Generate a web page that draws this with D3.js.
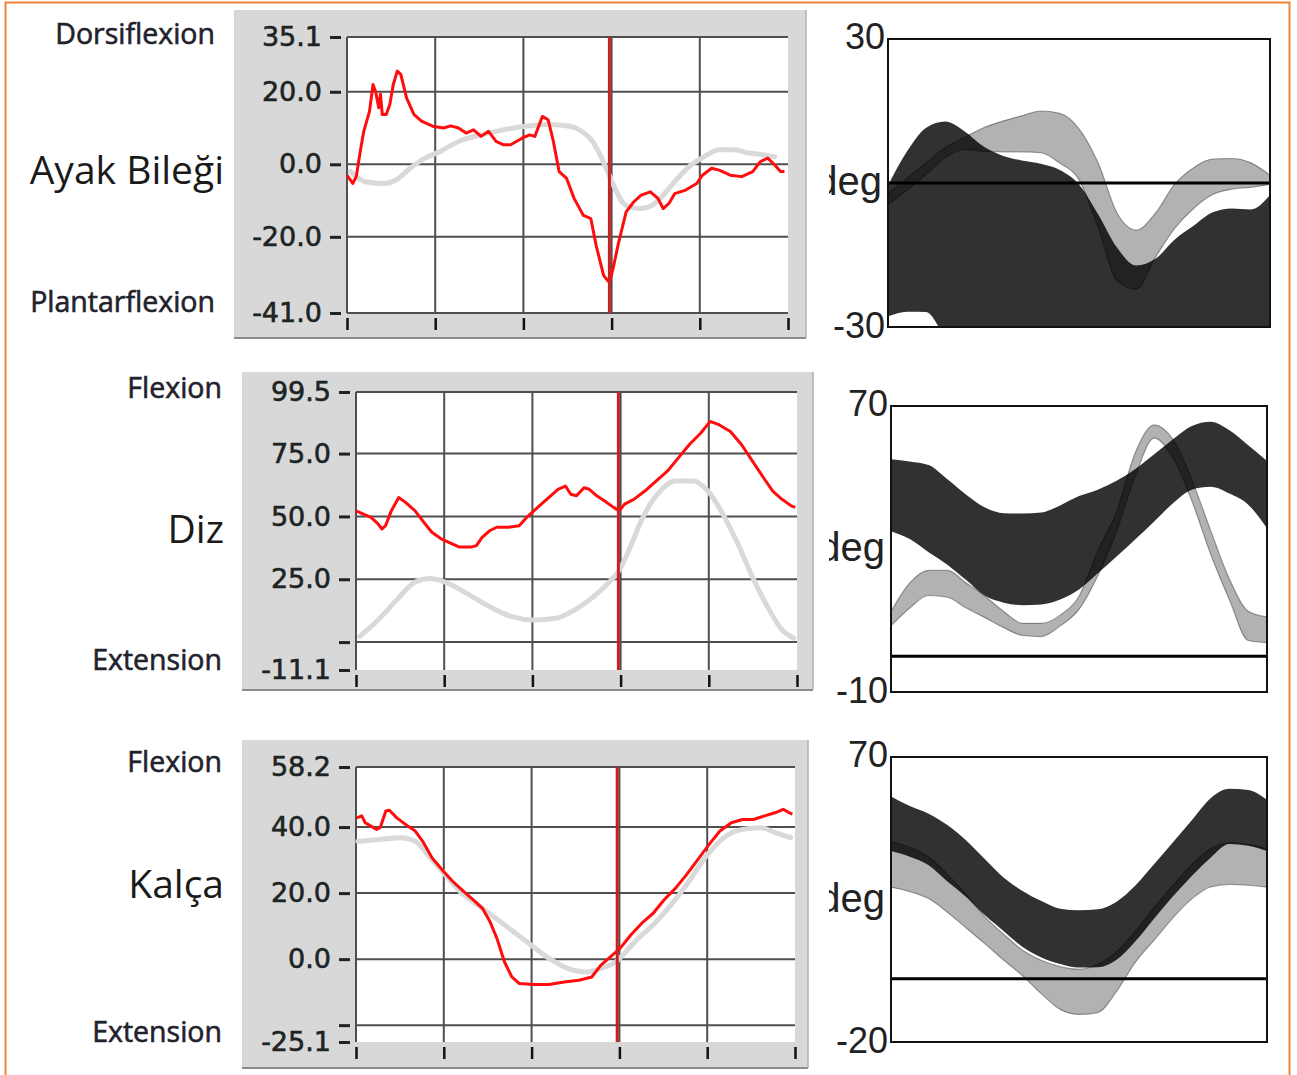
<!DOCTYPE html>
<html><head><meta charset="utf-8">
<script src="https://cdn.jsdelivr.net/npm/d3@7"></script>
<style>body{margin:0;background:#fff}svg{display:block}</style>
</head><body>
<svg id="c" width="1297" height="1075"></svg>
<script>
// ---------------- DATA ----------------
const xTicks = [0, 20, 40, 60, 80, 100];
const gridX = [0, 20, 40, 60, 80];
const toeOffPct = 59.5;

// Ankle (Ayak Bileği) - patient & normal
const ankleYDomain = [-41.0, 35.1];
const ankleTicks = [35.1, 20.0, 0.0, -20.0, -41.0];
const ankleTickLabels = ["35.1", "20.0", "0.0", "-20.0", "-41.0"];
const ankleGrid = [35.1, 20, 0, -20, -41.0];
const ankleActualPct = [0, 1.3, 2.1, 3, 3.8, 5.1, 5.9, 6.5, 7.2, 7.6, 8, 8.9, 9.7, 10.5, 11.4, 12.2, 13.5, 15.2, 16.9, 19.4, 21.9, 23.5, 25.3, 27, 28.7, 30.4, 32.1, 33.8, 35.4, 37.1, 39.7, 41.4, 42.6, 44.3, 45.6, 46.8, 48.1, 49.8, 51.5, 53.6, 55.3, 56.5, 58.2, 59.5, 60.3, 61.6, 63.3, 65, 66.7, 68.8, 70.5, 71.7, 73, 74.3, 76.8, 79.3, 80.6, 82.7, 84.4, 86.9, 89.5, 92, 93.7, 95.4, 97, 98.3, 99.2];
const ankleActual = [-3, -5.3, -3.4, 3.5, 9.1, 14.6, 22, 20, 15.6, 19.3, 13.7, 13.7, 16.5, 22, 25.7, 24.8, 18.3, 13.7, 11.9, 10.5, 10.0, 10.6, 10.0, 8.6, 9.5, 7.7, 9.1, 6.3, 5.4, 5.4, 7.2, 8.1, 7.7, 13.2, 12.3, 6.3, -2.0, -3.9, -9.4, -14.1, -15, -22.4, -30.7, -32.6, -28.9, -21.5, -13.1, -10.4, -8.5, -7.6, -9.4, -12.2, -10.8, -8.1, -7.1, -5.3, -3, -1.1, -1.6, -3, -3.4, -2, 0.7, 1.7, -0.2, -2, -2];
const ankleNormPct = [0.8, 4.2, 8.4, 11, 14.3, 17.7, 21.1, 25.3, 30.4, 35.4, 40.5, 45.6, 50.6, 53.2, 55.7, 57.4, 59.1, 60.8, 62.4, 64.1, 66.7, 69.2, 71.7, 74.3, 77.6, 81, 84.4, 87.8, 91.1, 94.5, 97];
const ankleNorm = [-2, -4.8, -5.3, -4.4, -1.1, 1.7, 3.5, 6.3, 8.1, 9.5, 10.5, 11, 10.5, 9.1, 6.3, 2.6, -2, -6.7, -10.4, -11.8, -12.2, -11.3, -8.5, -4.8, -0.6, 2.1, 4, 4, 3.1, 2.6, 2.1];

// Knee (Diz)
const kneeYDomain = [-11.1, 99.5];
const kneeTicks = [99.5, 75.0, 50.0, 25.0, 0.0, -11.1];
const kneeTickLabels = ["99.5", "75.0", "50.0", "25.0", "", "-11.1"];
const kneeGrid = [99.5, 75, 50, 25, 0];
const kneeActualPct = [0, 1.7, 3.4, 5, 5.9, 6.7, 8, 9.7, 11.3, 13.4, 15.1, 17.2, 19.3, 21.8, 23.5, 26.1, 27.3, 28.6, 30.3, 31.9, 34.5, 37, 38.7, 41.2, 43.7, 45.8, 47.5, 48.7, 50, 51.7, 52.9, 54.6, 56.3, 58.4, 59.7, 60.9, 63, 65.5, 68.1, 70.6, 73.1, 75.6, 78.2, 80.3, 82.4, 84.9, 87.4, 89.9, 92.4, 94.5, 96.6, 98.7, 99.6];
const kneeActual = [52.2, 50.9, 49.6, 47, 45, 46.3, 52.2, 57.5, 55.5, 52.2, 48.3, 43.7, 41.1, 39.1, 37.8, 37.8, 38.4, 41.7, 44.3, 45.7, 45.7, 46.3, 49.6, 53.6, 57.5, 60.8, 62.1, 58.8, 58.2, 61.4, 60.8, 58.2, 56.2, 53.6, 52.2, 54.9, 56.8, 60.1, 64.1, 68, 73.3, 78.6, 83.2, 87.8, 86.4, 83.8, 78.6, 72, 65.4, 60.1, 56.8, 54.2, 53.6];
const kneeNormPct = [0.8, 5, 9.2, 13.4, 16.8, 20.2, 25.2, 30.3, 35.3, 40.3, 45.4, 49.6, 53.8, 57.1, 59.7, 62.2, 64.7, 67.2, 69.7, 72.3, 76.5, 79.8, 83.2, 86.6, 89.9, 93.3, 96.6, 99.2];
const kneeNorm = [2.2, 8.8, 16.7, 23.9, 25.3, 23.9, 19.3, 14.1, 10.1, 8.8, 9.5, 12.8, 18, 23.3, 28.6, 37.8, 48.3, 56.2, 61.4, 64.1, 64.1, 60.1, 50.9, 39.1, 25.9, 14.1, 4.9, 1.6];

// Hip (Kalça)
const hipYDomain = [-25.1, 58.2];
const hipTicks = [58.2, 40.0, 20.0, 0.0, -20.0, -25.1];
const hipTickLabels = ["58.2", "40.0", "20.0", "0.0", "", "-25.1"];
const hipGrid = [58.2, 40, 20, 0, -20];
const hipActualPct = [0.2, 1.3, 2.1, 3.4, 4.7, 5.5, 6.8, 7.6, 9.3, 11.8, 13.5, 15.2, 17.3, 19.9, 22, 24.5, 27.1, 28.8, 30.5, 32.1, 33.8, 35.5, 37.2, 40.6, 44, 47.4, 50.8, 53.7, 55.8, 58.4, 60.1, 62.6, 65.1, 67.7, 70.2, 72.8, 75.3, 77.9, 80.4, 82.9, 85.5, 88, 90.5, 93.1, 95.6, 97.3, 98.6, 99.4];
const hipActual = [42.8, 43.4, 41.3, 40.3, 39.3, 39.8, 44.9, 45.1, 42.8, 40.3, 38.8, 35.7, 30.7, 26.6, 23.6, 20.5, 17.5, 15.4, 11.4, 6.3, -0.8, -5.4, -7.4, -7.7, -7.7, -6.9, -6.4, -5.4, -1.8, 1.2, 3.2, 7.3, 10.9, 13.9, 18, 21.5, 25.6, 30.2, 34.7, 38.8, 41.3, 42.3, 42.3, 43.4, 44.4, 45.4, 44.4, 43.9];
const hipNormPct = [0.4, 5.1, 10.2, 13.5, 16.9, 20.3, 23.7, 28.8, 33.8, 38.9, 44, 48.2, 52.5, 55.8, 59.2, 61.8, 64.3, 67.7, 71.1, 75.3, 79.5, 83.8, 88, 92.2, 95.6, 99];
const hipNorm = [35.7, 36.2, 36.8, 35.7, 30.7, 25.6, 20.5, 15.4, 10.4, 5.3, 0.2, -2.8, -3.9, -2.8, -0.8, 2.7, 6.3, 10.4, 15.4, 22.5, 30.7, 36.8, 39.3, 39.8, 38.3, 36.8];

// Right-hand band charts (deg vs % gait cycle)
const bandPct = [0, 5, 10, 15, 20, 25, 30, 35, 40, 45, 50, 55, 60, 65, 70, 75, 80, 85, 90, 95, 100];
const ankleBandDomain = [-30, 30];
const ankleDarkUpper = [-0.5, 6.6, 11.5, 12.8, 10.8, 7.6, 5.7, 4.7, 4.0, 2.7, -0.3, -6.5, -13.5, -17.2, -15.8, -11.8, -8.9, -6.1, -5.3, -5.5, -2.5];
const ankleDarkLower = [-27.8, -26.8, -26.9, -32, -35, -35, -35, -35, -35, -35, -35, -35, -35, -35, -35, -35, -35, -35, -35, -35, -35];
const ankleGreyUpper = [-2.2, 1.0, 4.2, 7.4, 9.5, 11.5, 12.9, 14.0, 15.0, 14.5, 11.3, 4.2, -6.3, -9.8, -6.3, -0.3, 3.2, 5.0, 5.1, 4.2, 1.6];
const ankleGreyLower = [-4.5, -1.5, 1.8, 5.3, 7.0, 6.6, 6.5, 6.5, 6.3, 4.1, 0.7, -9.3, -20.4, -22.1, -15.5, -9.5, -5.3, -2.4, -1.3, -0.9, -0.3];

const kneeBandDomain = [-10, 70];
const kneeDarkUpper = [55.1, 54.5, 53.5, 49.5, 45.2, 41.6, 40, 39.9, 40.2, 42.2, 44.8, 46.6, 49.1, 52.4, 56.5, 60.7, 64.4, 65.6, 63.2, 59, 54.6];
const kneeDarkLower = [35, 32.8, 29.1, 25.6, 21.3, 16.9, 15, 14.3, 14.5, 15.9, 18.7, 23.2, 27.9, 32.7, 37.7, 42.8, 46.6, 47.4, 45.5, 42.4, 35.8];
const kneeGreyUpper = [12.5, 20.5, 24, 24, 20.5, 16.8, 12.5, 9.2, 9.2, 11.5, 16.8, 29.5, 40.5, 57, 64.7, 60.6, 49.4, 35.2, 21.6, 12.6, 11];
const kneeGreyLower = [8.5, 13.5, 17, 16.5, 13.5, 10.8, 8, 5.8, 5.5, 8.5, 13.1, 22.5, 35, 50.5, 61, 55.5, 43.5, 28.6, 15.8, 4.4, 3.8];

const hipBandDomain = [-20, 70];
const hipDarkUpper = [57.5, 54.5, 52.1, 48.5, 43.6, 37.7, 31.9, 27.7, 24.5, 22.1, 21.6, 21.9, 24.3, 29.4, 36.2, 43.1, 50, 57, 60, 59.6, 56.5];
const hipDarkLower = [40.3, 38.5, 35.8, 30.7, 25.8, 20, 15, 10, 6.7, 4.6, 3.5, 3.6, 6, 11.8, 19, 26, 32.4, 38.2, 42.5, 42, 40.3];
const hipGreyUpper = [43.4, 41.5, 38.5, 33, 26.5, 19.5, 14, 9, 5.8, 3.8, 3.0, 4.5, 8.5, 15, 22.5, 29.5, 36, 41, 43, 42.5, 41];
const hipGreyLower = [28.9, 27.5, 25.3, 21, 16, 11, 5.8, 0.9, -4.8, -9.7, -11.3, -10.7, -4, 5.2, 12.2, 19.2, 25.2, 29, 29.8, 29.5, 28.9];

// Text
const jointNames = ["Ayak Bileği", "Diz", "Kalça"];
const upperNames = ["Dorsiflexion", "Flexion", "Flexion"];
const lowerNames = ["Plantarflexion", "Extension", "Extension"];
const bandTopLabels = ["30", "70", "70"];
const bandBottomLabels = ["-30", "-10", "-20"];
const unitLabel = "deg";

// ---------------- DRAW ----------------
const svg = d3.select("#c");
svg.append("rect").attr("x", 5.5).attr("y", 2.5).attr("width", 1284).attr("height", 1100)
  .attr("fill", "none").attr("stroke", "#ee8438").attr("stroke-width", 2);

const leftPanels = [
  {box: [234, 10, 806, 338], plot: [347, 37, 788, 313], yDomain: ankleYDomain, ticks: ankleTicks, labels: ankleTickLabels, grid: ankleGrid,
   actPct: ankleActualPct, act: ankleActual, normPct: ankleNormPct, norm: ankleNorm},
  {box: [242, 372, 813, 690], plot: [356, 392, 797, 670], yDomain: kneeYDomain, ticks: kneeTicks, labels: kneeTickLabels, grid: kneeGrid,
   actPct: kneeActualPct, act: kneeActual, normPct: kneeNormPct, norm: kneeNorm},
  {box: [242, 740, 808, 1068], plot: [356, 767, 795, 1042], yDomain: hipYDomain, ticks: hipTicks, labels: hipTickLabels, grid: hipGrid,
   actPct: hipActualPct, act: hipActual, normPct: hipNormPct, norm: hipNorm}
];

leftPanels.forEach(p => {
  const g = svg.append("g");
  g.append("rect").attr("x", p.box[0]).attr("y", p.box[1]).attr("width", p.box[2] - p.box[0]).attr("height", p.box[3] - p.box[1])
    .attr("fill", "#d8d8d8");
  g.append("line").attr("x1", p.box[0]).attr("x2", p.box[2]).attr("y1", p.box[3]).attr("y2", p.box[3]).attr("stroke", "#8a8a8a").attr("stroke-width", 2);
  g.append("line").attr("x1", p.box[2]).attr("x2", p.box[2]).attr("y1", p.box[1]).attr("y2", p.box[3]).attr("stroke", "#b0b0b0").attr("stroke-width", 1.5);
  const x = d3.scaleLinear().domain([0, 100]).range([p.plot[0], p.plot[2]]);
  const y = d3.scaleLinear().domain(p.yDomain).range([p.plot[3], p.plot[1]]);
  g.append("rect").attr("x", x(0)).attr("y", y(p.yDomain[1])).attr("width", x(100) - x(0)).attr("height", y(p.yDomain[0]) - y(p.yDomain[1])).attr("fill", "#fff");
  g.append("g").selectAll("line").data(p.grid).join("line")
    .attr("x1", x(0)).attr("x2", x(100)).attr("y1", d => y(d)).attr("y2", d => y(d))
    .attr("stroke", "#4f4f4f").attr("stroke-width", 2);
  g.append("g").selectAll("line").data(gridX).join("line")
    .attr("x1", d => x(d)).attr("x2", d => x(d)).attr("y1", y(p.yDomain[1])).attr("y2", y(p.yDomain[0]))
    .attr("stroke", "#4f4f4f").attr("stroke-width", 2);
  const smooth = d3.line().x(d => x(d[0])).y(d => y(d[1])).curve(d3.curveMonotoneX);
  g.append("path").attr("d", smooth(d3.zip(p.normPct, p.norm)))
    .attr("fill", "none").attr("stroke", "#d9d9d9").attr("stroke-width", 5).attr("stroke-linecap", "round");
  const jag = d3.line().x(d => x(d[0])).y(d => y(d[1]));
  g.append("path").attr("d", jag(d3.zip(p.actPct, p.act)))
    .attr("fill", "none").attr("stroke", "#ff0d0d").attr("stroke-width", 3).attr("stroke-linejoin", "round");
  g.append("line").attr("x1", x(toeOffPct)).attr("x2", x(toeOffPct)).attr("y1", y(p.yDomain[1])).attr("y2", y(p.yDomain[0]))
    .attr("stroke", "#cc2020").attr("stroke-width", 3);
  const lm = new Map(p.ticks.map((t, i) => [t, p.labels[i]]));
  const ya = g.append("g").attr("transform", `translate(${x(0) - 6},0)`)
    .call(d3.axisLeft(y).tickValues(p.ticks).tickFormat(d => lm.get(d)).tickSize(11).tickPadding(8));
  ya.select(".domain").remove();
  ya.attr("font-family", "DejaVu Sans").attr("font-size", 27).attr("color", "#1c2424");
  ya.selectAll(".tick text").attr("stroke", "#1c2424").attr("stroke-width", 0.6);
  ya.selectAll(".tick line").attr("stroke-width", 3);
  const xa = g.append("g").attr("transform", `translate(0,${y(p.yDomain[0]) + 5})`)
    .call(d3.axisBottom(x).tickValues(xTicks).tickFormat("").tickSize(12));
  xa.select(".domain").remove();
  xa.attr("color", "#111");
  xa.selectAll(".tick line").attr("stroke-width", 2.5);
});

// left text labels
const nameBase = [184, 543, 898];
const upperBase = [44, 398, 772];
const lowerBase = [312, 670, 1042];
const smallRight = [215, 222, 222];
jointNames.forEach((t, i) => {
  svg.append("text").attr("x", 224).attr("y", nameBase[i]).attr("text-anchor", "end")
    .attr("font-family", "Open Sans").attr("font-size", 39).attr("fill", "#1a1a1a").text(t);
  svg.append("text").attr("x", smallRight[i]).attr("y", upperBase[i]).attr("text-anchor", "end")
    .attr("font-family", "Open Sans").attr("font-size", 28.5).attr("fill", "#22222c")
    .attr("stroke", "#22222c").attr("stroke-width", 0.6).text(upperNames[i]);
  svg.append("text").attr("x", smallRight[i]).attr("y", lowerBase[i]).attr("text-anchor", "end")
    .attr("font-family", "Open Sans").attr("font-size", 28.5).attr("fill", "#22222c")
    .attr("stroke", "#22222c").attr("stroke-width", 0.6).text(lowerNames[i]);
});

// right band charts
const rightPanels = [
  {box: [888, 39, 1270, 327], domain: ankleBandDomain, du: ankleDarkUpper, dl: ankleDarkLower, gu: ankleGreyUpper, gl: ankleGreyLower},
  {box: [891, 406, 1267, 692], domain: kneeBandDomain, du: kneeDarkUpper, dl: kneeDarkLower, gu: kneeGreyUpper, gl: kneeGreyLower},
  {box: [891, 757, 1267, 1042], domain: hipBandDomain, du: hipDarkUpper, dl: hipDarkLower, gu: hipGreyUpper, gl: hipGreyLower}
];
const defs = svg.append("defs");
defs.append("clipPath").attr("id", "degclip").append("rect").attr("x", 829).attr("y", 0).attr("width", 80).attr("height", 1075);

rightPanels.forEach((p, i) => {
  const x = d3.scaleLinear().domain([0, 100]).range([p.box[0], p.box[2]]);
  const y = d3.scaleLinear().domain(p.domain).range([p.box[3], p.box[1]]);
  const cid = "rc" + i;
  defs.append("clipPath").attr("id", cid).append("rect")
    .attr("x", p.box[0]).attr("y", p.box[1]).attr("width", p.box[2] - p.box[0]).attr("height", p.box[3] - p.box[1]);
  const g = svg.append("g");
  g.append("rect").attr("x", p.box[0]).attr("y", p.box[1]).attr("width", p.box[2] - p.box[0]).attr("height", p.box[3] - p.box[1]).attr("fill", "#fff");
  const inner = g.append("g").attr("clip-path", `url(#${cid})`);
  const area = d3.area().x(d => x(d[0])).y0(d => y(d[1])).y1(d => y(d[2])).curve(d3.curveMonotoneX);
  inner.append("path").attr("d", area(d3.zip(bandPct, p.dl, p.du))).attr("fill", "#313131");
  inner.append("path").attr("d", area(d3.zip(bandPct, p.gl, p.gu))).attr("fill", "#000").attr("fill-opacity", 0.3);
  const edge = d3.line().x(d => x(d[0])).y(d => y(d[1])).curve(d3.curveMonotoneX);
  [p.gu, p.gl].forEach(arr => {
    inner.append("path").attr("d", edge(d3.zip(bandPct, arr))).attr("fill", "none")
      .attr("stroke", "#000").attr("stroke-opacity", 0.35).attr("stroke-width", 1.2);
  });
  g.append("line").attr("x1", x(0)).attr("x2", x(100)).attr("y1", y(0)).attr("y2", y(0)).attr("stroke", "#000").attr("stroke-width", 3);
  g.append("rect").attr("x", p.box[0]).attr("y", p.box[1]).attr("width", p.box[2] - p.box[0]).attr("height", p.box[3] - p.box[1])
    .attr("fill", "none").attr("stroke", "#111").attr("stroke-width", 2);
  const lx = p.box[0] - 3;
  g.append("text").attr("x", lx).attr("y", y(p.domain[1]) - 3).attr("dy", "0.35em").attr("text-anchor", "end")
    .attr("font-family", "Liberation Sans").attr("font-size", 36).attr("fill", "#222").text(bandTopLabels[i]);
  g.append("text").attr("x", lx).attr("y", y(p.domain[0]) - 2).attr("dy", "0.35em").attr("text-anchor", "end")
    .attr("font-family", "Liberation Sans").attr("font-size", 36).attr("fill", "#222").text(bandBottomLabels[i]);
  g.append("text").attr("x", lx - 3).attr("y", (p.box[1] + p.box[3]) / 2).attr("dy", "0.3em").attr("text-anchor", "end")
    .attr("clip-path", "url(#degclip)")
    .attr("font-family", "Liberation Sans").attr("font-size", 40).attr("fill", "#222").text(unitLabel);
});
</script>
</body></html>
